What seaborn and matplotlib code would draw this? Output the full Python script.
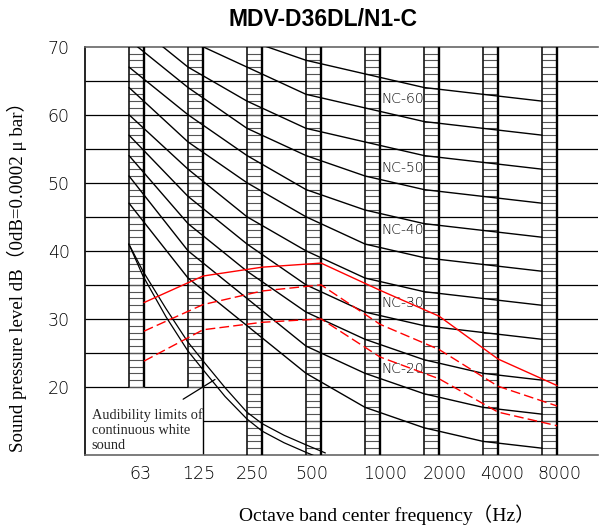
import numpy as np
import pandas as pd
import matplotlib
matplotlib.use("Agg")
import matplotlib.pyplot as plt
import seaborn as sns

# octave bands
bands = ["63", "125", "250", "500", "1000", "2000", "4000", "8000"]

# NC curves (dB) at 63 ... 8000 Hz
nc_names = ["NC-15", "NC-20", "NC-25", "NC-30", "NC-35", "NC-40",
            "NC-45", "NC-50", "NC-55", "NC-60", "NC-65"]
nc15 = [47, 36, 29, 22, 17, 14, 12, 11]
nc20 = [51, 40, 33, 26, 22, 19, 17, 16]
nc25 = [54, 44, 37, 31, 27, 24, 22, 21]
nc30 = [57, 48, 41, 35, 31, 29, 28, 27]
nc35 = [60, 52, 45, 40, 36, 34, 33, 32]
nc40 = [64, 56, 50, 45, 41, 39, 38, 37]
nc45 = [67, 60, 54, 49, 46, 44, 43, 42]
nc50 = [71, 64, 58, 54, 51, 49, 48, 47]
nc55 = [74, 67, 62, 58, 56, 54, 53, 52]
nc60 = [77, 71, 67, 63, 61, 59, 58, 57]
nc65 = [80, 75, 71, 68, 66, 64, 63, 62]
nc_curves = [nc15, nc20, nc25, nc30, nc35, nc40, nc45, nc50, nc55, nc60, nc65]

# labelled curves and where the label sits (dB)
label_names = ["NC-60", "NC-50", "NC-40", "NC-30", "NC-20"]
label_levels = [62.3, 52.2, 43.0, 32.4, 22.7]

# unit sound levels (red)
unit_high = [32.4, 36.3, 37.6, 38.2, 34.2, 30.4, 24.1, 20.2]
unit_mid = [28.2, 32.1, 34.1, 35.0, 29.2, 25.5, 20.1, 17.2]
unit_low = [23.8, 28.4, 29.5, 30.0, 24.4, 21.2, 16.3, 14.3]

# audibility limits of continuous white sound (two traces)
aud_x = [-0.13, 0.11, 0.5, 0.87, 1.13, 1.5, 1.87, 2.13, 2.5, 2.87, 3.2]
aud_a = [41, 36.3, 30.3, 25.3, 22.5, 18.6, 15.3, 13.5, 11.8, 10.4, 9.2]
aud_b = [41, 37.0, 31.5, 26.6, 23.8, 19.9, 16.3, 14.6, 12.9, 11.5, 10.3]

half = 0.127  # half width of the band ladders
pos = np.arange(len(bands))

nc_df = pd.DataFrame([
    {"curve": name, "x": i - half, "dB": v}
    for name, vals in zip(nc_names, nc_curves)
    for i, v in enumerate(vals)
])

sns.set_style("white")
plt.rcParams["font.family"] = ["DejaVu Sans"]

fig = plt.figure(figsize=(6, 5.25), dpi=100)
ax = fig.add_axes([85 / 600, 70 / 525, 513 / 600, 408.3 / 525])
x0, x1 = -0.873, 7.82
ax.set_xlim(x0, x1)
ax.set_ylim(10, 70)

# horizontal grid
ax.hlines(np.arange(20, 70, 5), x0, x1, color="black", lw=0.9, zorder=1)
ax.hlines(15, 1 + half, x1, color="black", lw=0.9, zorder=1)
ax.vlines(1 + half, 10, 20, color="black", lw=1.0, zorder=1)

# ladder bars
for i in pos:
    lo = 20 if i < 2 else 10
    ax.hlines(np.arange(lo, 71), i - half, i + half, color="#555555", lw=0.8, zorder=2)
    ax.vlines(i - half, lo, 70, color="black", lw=1.1, zorder=3)
    ax.vlines(i + half, lo, 70, color="black", lw=1.7, zorder=3)

# NC curves
sns.lineplot(data=nc_df, x="x", y="dB", units="curve", estimator=None,
             color="black", lw=1.0, ax=ax, zorder=4)

for name, lev in zip(label_names, label_levels):
    ax.text(4 + half + 0.02, lev, name, fontsize=10, va="center", ha="left",
            color="black", fontweight="light", zorder=5)

# audibility limits
sns.lineplot(x=aud_x, y=aud_a, color="black", lw=0.9, ax=ax, zorder=4)
sns.lineplot(x=aud_x, y=aud_b, color="black", lw=0.9, ax=ax, zorder=4)
ax.plot([0.79, 1.33], [18.2, 21.1], color="black", lw=0.9, zorder=4)
ax.text(-0.76, 13.65, "Audibility limits of\ncontinuous white\nsound",
        family="Liberation Serif", fontsize=10.4, va="center", ha="left", zorder=5)

# unit levels
red_x = pos + half
sns.lineplot(x=red_x, y=unit_high, color="red", lw=1.0, ax=ax, zorder=6)
sns.lineplot(x=red_x, y=unit_mid, color="red", lw=1.0, ax=ax, zorder=6)
sns.lineplot(x=red_x, y=unit_low, color="red", lw=1.0, ax=ax, zorder=6)
for ln in ax.lines[-2:]:
    ln.set_dashes((7, 3))

# axes cosmetics
ax.spines["right"].set_visible(False)
ax.spines["left"].set_color("black")
ax.spines["top"].set_color("#666666")
ax.spines["bottom"].set_color("#666666")
for side in ["left", "top", "bottom"]:
    ax.spines[side].set_linewidth(1.2)

ax.set_yticks([20, 30, 40, 50, 60, 70])
ax.set_yticklabels(["20", "30", "40", "50", "60", "70"], fontsize=12.5,
                   color="black", fontweight="light")
tick_shift = [0.06, 0.06, -0.03, -0.03, 0.21, 0.22, 0.19, 0.16]
ax.set_xticks(pos + np.array(tick_shift))
ax.set_xticklabels(bands, fontsize=12.5, color="black", fontweight="light")
ax.tick_params(axis="y", length=0, pad=11)
ax.tick_params(axis="x", length=0, pad=7)

ax.set_xlabel("Octave band center frequency（Hz）",
              family=["Liberation Serif", "Noto Sans CJK SC"], fontsize=14, color="black")
ax.xaxis.label.set_va("center")
ax.xaxis.set_label_coords(0.588, -0.147)
ax.set_ylabel("Sound pressure level dB（0dB=0.0002 μ bar）",
              family=["Liberation Serif", "Noto Sans CJK SC"], fontsize=13.6, color="black")
ax.yaxis.label.set_va("center")
ax.yaxis.set_label_coords(-0.1326, 0.448)

fig.text(323 / 600, 1 - 20 / 525, "MDV-D36DL/N1-C", family="Liberation Sans",
         fontweight="bold", fontsize=16.5, ha="center", va="center", color="black")

fig.savefig("out.png", dpi=100)
